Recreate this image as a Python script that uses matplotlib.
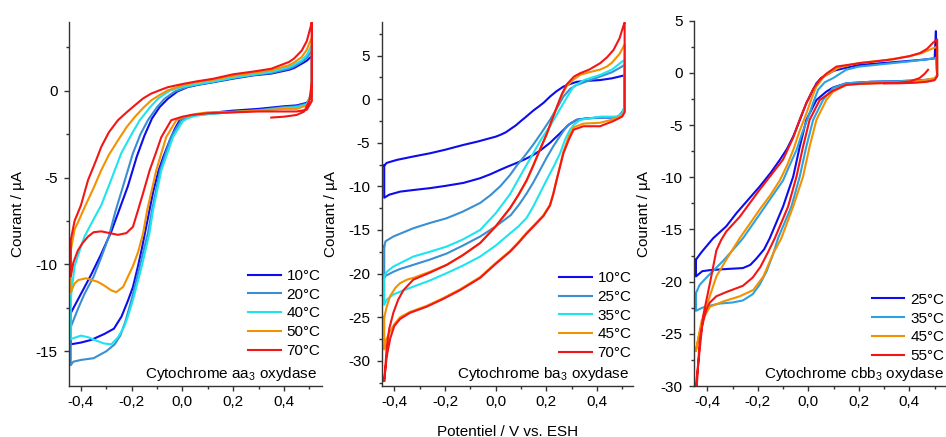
import matplotlib
matplotlib.use('Agg')
import matplotlib.pyplot as plt
from matplotlib.ticker import MultipleLocator, FuncFormatter

plt.rcParams['font.family'] = ['Liberation Sans', 'DejaVu Sans']
plt.rcParams['axes.unicode_minus'] = False
plt.rcParams['font.size'] = 11
plt.rcParams['mathtext.fontset'] = 'custom'
plt.rcParams['mathtext.rm'] = 'Liberation Sans'
plt.rcParams['mathtext.it'] = 'Liberation Sans:italic'

# ---------------- data (E / V, I / uA), loop order ----------------
aa3_labels = ['10°C', '20°C', '40°C', '50°C', '70°C']
ba3_labels = ['10°C', '25°C', '35°C', '45°C', '70°C']
cbb3_labels = ['25°C', '35°C', '45°C', '55°C']

aa3_10C = [(-0.44,-12.8),(-0.40,-11.7),(-0.36,-10.6),(-0.32,-9.4),(-0.28,-8.1),(-0.25,-6.9),(-0.215,-5.5),(-0.18,-3.8),(-0.15,-2.6),(-0.12,-1.6),(-0.09,-0.95),(-0.057,-0.46),(-0.02,-0.05),(0.02,0.2),(0.06,0.33),(0.12,0.48),(0.20,0.69),(0.28,0.88),(0.35,0.98),(0.42,1.2),(0.44,1.3),(0.47,1.55),(0.49,1.72),(0.505,1.93),(0.51,2.0),
           (0.51,-0.3),(0.49,-0.7),(0.45,-0.85),(0.40,-0.9),(0.30,-1.05),(0.20,-1.15),(0.10,-1.3),(0.05,-1.4),(0.02,-1.55),(-0.011,-1.7),(-0.03,-2.2),(-0.051,-2.9),(-0.075,-3.8),(-0.094,-4.6),(-0.115,-5.8),(-0.13,-6.9),(-0.145,-8.0),(-0.16,-9.1),(-0.175,-10.1),(-0.195,-11.3),(-0.215,-12.1),(-0.24,-13.0),(-0.27,-13.7),(-0.307,-14.0),(-0.36,-14.35),(-0.40,-14.5),(-0.44,-14.6),(-0.44,-12.8)]
aa3_20C = [(-0.44,-13.6),(-0.41,-12.5),(-0.386,-11.7),(-0.35,-10.7),(-0.32,-9.6),(-0.29,-8.4),(-0.265,-7.0),(-0.234,-5.5),(-0.195,-3.6),(-0.165,-2.5),(-0.136,-1.7),(-0.10,-0.95),(-0.07,-0.46),(-0.03,-0.05),(0.02,0.22),(0.06,0.35),(0.12,0.5),(0.20,0.72),(0.28,0.9),(0.35,1.02),(0.42,1.26),(0.44,1.38),(0.47,1.65),(0.49,1.88),(0.505,2.2),(0.51,2.3),
           (0.51,-0.2),(0.49,-0.75),(0.45,-0.9),(0.40,-0.95),(0.30,-1.12),(0.20,-1.22),(0.10,-1.35),(0.05,-1.42),(0.02,-1.55),(-0.005,-1.7),(-0.045,-2.67),(-0.088,-4.58),(-0.12,-6.9),(-0.136,-8.2),(-0.168,-10.1),(-0.20,-12.0),(-0.225,-13.3),(-0.245,-14.1),(-0.267,-14.6),(-0.30,-15.0),(-0.35,-15.4),(-0.40,-15.5),(-0.43,-15.6),(-0.44,-15.8),(-0.44,-13.6)]
aa3_40C = [(-0.44,-12.3),(-0.438,-11.7),(-0.425,-10.1),(-0.405,-9.2),(-0.386,-8.4),(-0.35,-7.4),(-0.32,-6.6),(-0.28,-5.1),(-0.241,-3.6),(-0.2,-2.5),(-0.168,-1.7),(-0.13,-1.0),(-0.096,-0.46),(-0.05,0.0),(-0.004,0.2),(0.05,0.35),(0.12,0.52),(0.20,0.75),(0.28,0.93),(0.35,1.08),(0.42,1.36),(0.44,1.5),(0.47,1.74),(0.49,2.05),(0.505,2.5),(0.51,2.6),
           (0.51,-0.1),(0.49,-0.8),(0.45,-0.95),(0.40,-1.0),(0.30,-1.15),(0.20,-1.25),(0.10,-1.35),(0.05,-1.45),(0.02,-1.6),(0.002,-1.75),(-0.037,-2.67),(-0.083,-4.58),(-0.116,-6.9),(-0.13,-8.2),(-0.16,-10.1),(-0.195,-12.05),(-0.215,-13.0),(-0.23,-13.6),(-0.254,-14.2),(-0.28,-14.6),(-0.31,-14.55),(-0.346,-14.35),(-0.37,-14.2),(-0.40,-14.1),(-0.42,-14.2),(-0.44,-14.3),(-0.44,-12.3)]
aa3_50C = [(-0.44,-9.2),(-0.425,-8.0),(-0.40,-7.2),(-0.385,-6.7),(-0.35,-5.6),(-0.32,-4.58),(-0.29,-3.7),(-0.254,-2.86),(-0.22,-2.1),(-0.188,-1.52),(-0.155,-1.0),(-0.123,-0.56),(-0.09,-0.25),(-0.057,0.02),(0.0,0.3),(0.055,0.48),(0.12,0.62),(0.20,0.85),(0.28,1.02),(0.35,1.17),(0.42,1.46),(0.44,1.62),(0.47,1.93),(0.49,2.35),(0.505,2.9),(0.51,3.0),
           (0.51,-0.2),(0.49,-0.85),(0.45,-1.05),(0.40,-1.05),(0.30,-1.15),(0.20,-1.22),(0.10,-1.25),(0.05,-1.35),(0.0,-1.55),(-0.024,-1.7),(-0.064,-2.67),(-0.103,-4.58),(-0.139,-6.88),(-0.155,-8.22),(-0.175,-9.3),(-0.195,-10.1),(-0.208,-10.5),(-0.234,-11.3),(-0.261,-11.6),(-0.28,-11.5),(-0.31,-11.2),(-0.334,-11.0),(-0.38,-10.8),(-0.41,-10.9),(-0.425,-11.1),(-0.44,-11.6),(-0.44,-9.2)]
aa3_70C = [(0.35,-1.55),(0.40,-1.5),(0.45,-1.4),(0.48,-1.2),(0.50,-0.6),(0.51,0.5),(0.51,3.95),
           (0.51,-0.6),(0.49,-1.1),(0.45,-1.2),(0.40,-1.2),(0.30,-1.2),(0.20,-1.25),(0.10,-1.3),(0.035,-1.4),(0.0,-1.5),(-0.044,-1.7),(-0.083,-2.67),(-0.105,-3.6),(-0.129,-4.58),(-0.155,-5.9),(-0.175,-6.88),(-0.195,-7.84),(-0.221,-8.2),(-0.254,-8.3),(-0.28,-8.22),(-0.32,-8.1),(-0.35,-8.15),(-0.372,-8.4),(-0.395,-8.8),(-0.412,-9.2),(-0.43,-9.9),(-0.44,-10.7),
           (-0.44,-8.6),(-0.425,-7.5),(-0.40,-6.6),(-0.372,-5.15),(-0.34,-4.0),(-0.32,-3.24),(-0.29,-2.4),(-0.254,-1.7),(-0.22,-1.25),(-0.188,-0.85),(-0.155,-0.45),(-0.123,-0.17),(-0.09,0.02),(-0.057,0.2),(0.0,0.38),(0.055,0.53),(0.12,0.68),(0.20,0.94),(0.28,1.1),(0.35,1.26),(0.42,1.65),(0.44,1.85),(0.47,2.3),(0.49,2.85),(0.505,3.66),(0.51,3.95)]

ba3_10C = [(-0.44,-7.6),(-0.43,-7.3),(-0.39,-6.96),(-0.33,-6.6),(-0.259,-6.2),(-0.2,-5.8),(-0.127,-5.24),(-0.07,-4.85),(-0.022,-4.47),(0.0,-4.3),(0.018,-4.1),(0.04,-3.8),(0.06,-3.4),(0.08,-3.0),(0.10,-2.5),(0.125,-1.9),(0.149,-1.3),(0.17,-0.85),(0.19,-0.4),(0.215,0.3),(0.24,0.9),(0.268,1.45),(0.30,1.8),(0.321,2.0),(0.36,2.1),(0.413,2.2),(0.46,2.4),(0.499,2.67),(0.51,2.75),
           (0.51,-1.0),(0.50,-1.5),(0.485,-2.0),(0.45,-2.1),(0.413,-2.1),(0.36,-2.2),(0.321,-2.35),(0.29,-2.9),(0.255,-3.9),(0.215,-5.0),(0.18,-5.8),(0.149,-6.4),(0.115,-6.9),(0.084,-7.3),(0.05,-7.7),(0.018,-8.1),(-0.02,-8.6),(-0.061,-9.06),(-0.127,-9.6),(-0.2,-9.95),(-0.259,-10.2),(-0.32,-10.4),(-0.377,-10.6),(-0.42,-10.95),(-0.44,-11.3),(-0.44,-7.6)]
ba3_25C = [(-0.44,-16.9),(-0.435,-16.3),(-0.404,-15.75),(-0.325,-14.8),(-0.26,-14.2),(-0.193,-13.65),(-0.13,-12.9),(-0.061,-11.9),(-0.02,-11.0),(0.018,-10.0),(0.057,-8.7),(0.084,-7.6),(0.115,-6.5),(0.149,-5.2),(0.18,-3.9),(0.215,-2.37),(0.245,-0.9),(0.268,0.3),(0.295,1.2),(0.321,1.64),(0.36,2.05),(0.413,2.6),(0.46,3.1),(0.499,3.74),(0.51,4.0),
           (0.51,-1.2),(0.50,-1.8),(0.48,-2.1),(0.413,-2.1),(0.36,-2.2),(0.321,-2.37),(0.30,-2.7),(0.281,-3.1),(0.255,-4.2),(0.228,-5.4),(0.20,-6.8),(0.176,-8.1),(0.15,-9.5),(0.123,-10.8),(0.095,-12.0),(0.06,-13.3),(0.0,-14.6),(-0.061,-15.75),(-0.13,-16.8),(-0.193,-17.7),(-0.26,-18.4),(-0.325,-19.0),(-0.38,-19.5),(-0.404,-19.8),(-0.437,-20.3),(-0.44,-20.5),(-0.44,-16.9)]
ba3_35C = [(-0.44,-20.3),(-0.43,-19.8),(-0.404,-19.2),(-0.325,-18.05),(-0.26,-17.5),(-0.193,-16.9),(-0.13,-16.1),(-0.061,-15.0),(0.0,-13.1),(0.057,-10.9),(0.084,-9.5),(0.115,-7.9),(0.149,-6.2),(0.18,-4.6),(0.215,-3.1),(0.245,-1.6),(0.268,-0.46),(0.29,0.6),(0.308,1.45),(0.35,2.2),(0.413,2.79),(0.46,3.4),(0.499,4.3),(0.51,4.5),
           (0.51,-0.8),(0.50,-1.6),(0.48,-2.0),(0.413,-2.0),(0.334,-2.37),(0.31,-2.9),(0.294,-3.5),(0.275,-4.6),(0.255,-6.2),(0.23,-7.7),(0.202,-9.25),(0.175,-10.8),(0.149,-12.3),(0.123,-13.6),(0.09,-14.6),(0.057,-15.4),(0.0,-16.8),(-0.061,-18.05),(-0.13,-19.1),(-0.193,-19.95),(-0.26,-20.8),(-0.325,-21.5),(-0.37,-22.0),(-0.404,-22.4),(-0.43,-23.0),(-0.44,-23.6),(-0.44,-20.3)]
ba3_45C = [(-0.44,-25.0),(-0.43,-23.8),(-0.417,-22.6),(-0.395,-21.6),(-0.377,-21.1),(-0.35,-20.7),(-0.325,-20.5),(-0.26,-19.8),(-0.193,-19.0),(-0.13,-17.9),(-0.061,-16.5),(0.0,-14.6),(0.057,-12.5),(0.09,-11.0),(0.123,-9.3),(0.149,-7.6),(0.175,-5.8),(0.202,-4.0),(0.225,-2.2),(0.242,-0.9),(0.262,0.5),(0.281,1.5),(0.31,2.3),(0.334,2.8),(0.37,3.1),(0.413,3.4),(0.44,3.75),(0.46,4.2),(0.49,5.2),(0.51,6.3),
           (0.51,-1.3),(0.50,-1.9),(0.466,-2.3),(0.413,-2.7),(0.347,-2.8),(0.31,-3.2),(0.29,-4.2),(0.268,-6.0),(0.255,-7.6),(0.242,-9.1),(0.228,-10.8),(0.215,-12.1),(0.189,-13.3),(0.15,-14.5),(0.123,-15.3),(0.09,-16.4),(0.057,-17.4),(0.0,-18.8),(-0.061,-20.4),(-0.14,-21.8),(-0.206,-22.8),(-0.272,-23.7),(-0.338,-24.4),(-0.377,-25.0),(-0.40,-25.8),(-0.42,-26.8),(-0.435,-27.8),(-0.44,-28.7),(-0.44,-25.0)]
ba3_70C = [(-0.44,-32.3),(-0.435,-30.5),(-0.43,-28.4),(-0.42,-26.3),(-0.404,-24.5),(-0.385,-23.0),(-0.364,-21.9),(-0.325,-20.7),(-0.26,-19.9),(-0.193,-19.0),(-0.13,-17.9),(-0.061,-16.5),(0.0,-14.6),(0.057,-12.5),(0.09,-11.0),(0.123,-9.3),(0.149,-7.6),(0.175,-5.8),(0.202,-4.0),(0.225,-2.2),(0.242,-0.9),(0.262,0.6),(0.281,1.7),(0.31,2.6),(0.334,2.98),(0.37,3.4),(0.413,4.13),(0.44,4.8),(0.466,5.65),(0.49,7.0),(0.505,8.4),(0.51,8.8),
           (0.51,-1.5),(0.50,-2.0),(0.466,-2.5),(0.413,-3.1),(0.347,-3.1),(0.308,-3.5),(0.29,-4.6),(0.268,-6.2),(0.255,-7.7),(0.242,-9.2),(0.228,-10.9),(0.215,-12.2),(0.189,-13.4),(0.15,-14.6),(0.123,-15.4),(0.09,-16.5),(0.057,-17.5),(0.0,-18.9),(-0.061,-20.5),(-0.14,-21.9),(-0.206,-22.9),(-0.272,-23.8),(-0.338,-24.5),(-0.377,-25.2),(-0.40,-26.0),(-0.416,-27.4),(-0.43,-29.5),(-0.44,-32.3)]

cbb3_25C = [(-0.445,-17.9),(-0.43,-17.4),(-0.417,-17.0),(-0.377,-15.85),(-0.325,-14.7),(-0.285,-13.45),(-0.24,-12.2),(-0.193,-10.9),(-0.15,-9.6),(-0.113,-8.34),(-0.085,-7.3),(-0.06,-6.1),(-0.035,-4.6),(-0.008,-2.9),(0.015,-1.8),(0.032,-1.0),(0.05,-0.5),(0.071,-0.2),(0.10,0.2),(0.15,0.5),(0.20,0.75),(0.30,0.95),(0.40,1.15),(0.47,1.3),(0.50,1.4),(0.505,4.0),(0.508,0.5),
            (0.51,-0.3),(0.50,-0.6),(0.45,-0.7),(0.35,-0.8),(0.25,-0.85),(0.15,-1.0),(0.098,-1.4),(0.071,-1.8),(0.032,-2.6),(-0.008,-4.5),(-0.034,-7.07),(-0.06,-9.94),(-0.10,-12.8),(-0.153,-15.85),(-0.175,-16.9),(-0.206,-17.8),(-0.23,-18.4),(-0.259,-18.7),(-0.33,-18.8),(-0.39,-18.9),(-0.42,-19.0),(-0.445,-19.5),(-0.445,-17.9)]
cbb3_35C = [(-0.445,-21.1),(-0.43,-20.3),(-0.403,-19.6),(-0.337,-18.0),(-0.30,-17.0),(-0.259,-15.85),(-0.22,-14.5),(-0.18,-13.1),(-0.14,-11.7),(-0.10,-10.3),(-0.075,-8.9),(-0.047,-7.4),(-0.025,-5.8),(0.0,-4.2),(0.02,-2.8),(0.039,-1.6),(0.065,-0.9),(0.098,-0.5),(0.15,0.3),(0.20,0.6),(0.30,0.85),(0.40,1.1),(0.47,1.3),(0.50,1.4),(0.51,1.5),
            (0.51,-0.3),(0.50,-0.6),(0.45,-0.7),(0.35,-0.8),(0.25,-0.85),(0.15,-1.0),(0.098,-1.45),(0.058,-2.6),(0.019,-4.5),(-0.008,-7.07),(-0.034,-9.94),(-0.067,-12.8),(-0.12,-15.85),(-0.14,-17.4),(-0.165,-19.0),(-0.193,-20.3),(-0.22,-21.2),(-0.259,-21.8),(-0.30,-22.0),(-0.35,-22.1),(-0.39,-22.3),(-0.42,-22.5),(-0.445,-22.8),(-0.445,-21.1)]
cbb3_45C = [(-0.445,-26.6),(-0.43,-24.9),(-0.404,-22.4),(-0.364,-19.5),(-0.325,-17.9),(-0.272,-15.85),(-0.23,-14.4),(-0.193,-13.1),(-0.15,-11.7),(-0.113,-10.3),(-0.085,-8.9),(-0.06,-7.4),(-0.035,-5.6),(-0.008,-3.9),(0.012,-2.5),(0.032,-1.3),(0.06,-0.4),(0.085,0.0),(0.12,0.5),(0.20,0.95),(0.30,1.2),(0.40,1.6),(0.45,1.9),(0.494,2.36),(0.51,2.5),
            (0.51,-0.2),(0.50,-0.5),(0.45,-0.75),(0.35,-0.9),(0.25,-1.0),(0.15,-1.15),(0.098,-1.8),(0.071,-2.6),(0.032,-4.5),(0.005,-7.07),(-0.021,-9.94),(-0.06,-12.8),(-0.107,-15.85),(-0.139,-17.3),(-0.178,-19.5),(-0.218,-20.8),(-0.271,-21.4),(-0.337,-21.9),(-0.389,-22.4),(-0.422,-23.7),(-0.445,-26.6)]
cbb3_55C = [(0.474,0.3),(0.46,-0.1),(0.44,-0.5),(0.40,-0.84),(0.35,-0.95),(0.27,-1.0),(0.20,-1.05),(0.15,-1.15),(0.098,-1.7),(0.045,-2.6),(0.005,-4.5),(-0.021,-7.07),(-0.047,-9.94),(-0.08,-12.8),(-0.133,-15.85),(-0.16,-17.2),(-0.19,-18.6),(-0.22,-19.6),(-0.259,-20.4),(-0.325,-21.0),(-0.364,-21.4),(-0.39,-22.0),(-0.404,-22.7),(-0.42,-24.2),(-0.43,-25.6),(-0.44,-29.4),(-0.445,-31.0),
            (-0.444,-29.7),(-0.43,-26.5),(-0.417,-23.35),(-0.39,-20.2),(-0.364,-17.0),(-0.345,-16.0),(-0.325,-15.2),(-0.272,-13.8),(-0.193,-11.2),(-0.10,-8.3),(-0.06,-6.2),(-0.03,-4.2),(-0.008,-2.9),(0.02,-1.5),(0.045,-0.68),(0.07,-0.1),(0.111,0.6),(0.20,0.92),(0.335,1.3),(0.40,1.6),(0.442,1.9),(0.47,2.3),(0.494,2.9),(0.51,3.2),
            (0.51,-0.3),(0.50,-0.7),(0.47,-0.85),(0.42,-0.95),(0.35,-1.0),(0.30,-1.0)]

aa3_series = [aa3_10C, aa3_20C, aa3_40C, aa3_50C, aa3_70C]
ba3_series = [ba3_10C, ba3_25C, ba3_35C, ba3_45C, ba3_70C]
cbb3_series = [cbb3_25C, cbb3_35C, cbb3_45C, cbb3_55C]

col_blue = '#0c0cec'
col_steel = '#3a8fd2'
col_cyan = '#1ee4f0'
col_orange = '#f39200'
col_red = '#f21616'
col_sky = '#2ea2de'
aa3_colors = [col_blue, col_steel, col_cyan, col_orange, col_red]
ba3_colors = [col_blue, col_steel, col_cyan, col_orange, col_red]
cbb3_colors = [col_blue, col_sky, col_orange, col_red]

# ---------------- figure ----------------
W, H = 946, 437
fig = plt.figure(figsize=(W / 100, H / 100), dpi=100)


def add_axes(l, r, t, b):
    return fig.add_axes([l / W, 1 - b / H, (r - l) / W, (b - t) / H])


xfmt = FuncFormatter(lambda v, _: ('%.1f' % (0.0 if abs(v) < 1e-9 else v)).replace('.', ','))
yfmt = FuncFormatter(lambda v, _: '%d' % round(v))

panels = [
    dict(box=(69, 322, 22, 386), xlim=(-0.447, 0.55), ylim=(-17.0, 3.95),
         series=aa3_series, labels=aa3_labels, colors=aa3_colors,
         title='Cytochrome aa$_3$ oxydase', leg=(0.995, 0.077), txt=(0.98, 0.022)),
    dict(box=(381.7, 633, 22, 386), xlim=(-0.45, 0.543), ylim=(-32.9, 8.86),
         series=ba3_series, labels=ba3_labels, colors=ba3_colors,
         title='Cytochrome ba$_3$ oxydase', leg=(0.995, 0.071), txt=(0.986, 0.022)),
    dict(box=(694.3, 946, 20.7, 386), xlim=(-0.4515, 0.545), ylim=(-30, 5),
         series=cbb3_series, labels=cbb3_labels, colors=cbb3_colors,
         title='Cytochrome cbb$_3$ oxydase', leg=(0.994, 0.063), txt=(0.99, 0.021)),
]

for p in panels:
    ax = add_axes(*p['box'])
    for pts, lab, c in zip(p['series'], p['labels'], p['colors']):
        E, I = zip(*pts)
        ax.plot(E, I, color=c, lw=1.5, label=lab, solid_joinstyle='round')
    ax.set_xlim(*p['xlim'])
    ax.set_ylim(*p['ylim'])
    for s in ['top', 'right']:
        ax.spines[s].set_visible(False)
    for s in ['left', 'bottom']:
        ax.spines[s].set_color('#333333')
        ax.spines[s].set_linewidth(1.0)
    ax.xaxis.set_major_locator(MultipleLocator(0.2))
    ax.xaxis.set_minor_locator(MultipleLocator(0.1))
    ax.yaxis.set_major_locator(MultipleLocator(5))
    ax.yaxis.set_minor_locator(MultipleLocator(2.5))
    ax.xaxis.set_major_formatter(xfmt)
    ax.yaxis.set_major_formatter(yfmt)
    ax.tick_params(which='major', direction='out', length=3.3, width=1.0,
                   color='#333333', labelcolor='black', labelsize=11)
    ax.tick_params(which='minor', direction='out', length=2.3, width=1.0, color='#333333')
    ax.tick_params(axis='y', which='major', pad=5)
    ax.tick_params(axis='x', which='major', pad=3.5)
    ax.set_ylabel('Courant / µA', fontsize=11)
    ax.yaxis.set_label_coords(-0.172, 0.472)
    ax.legend(loc='lower right', bbox_to_anchor=p['leg'], frameon=False,
              handlelength=2.15, handletextpad=0.4, labelspacing=0.31,
              borderaxespad=0, borderpad=0, fontsize=11)
    ax.text(p['txt'][0], p['txt'][1], p['title'], transform=ax.transAxes,
            ha='right', va='baseline', fontsize=11)

fig.text(507.7 / W, 1.5 / H, 'Potentiel / V vs. ESH', ha='center', va='baseline', fontsize=11)

fig.savefig('out.png', dpi=100)
